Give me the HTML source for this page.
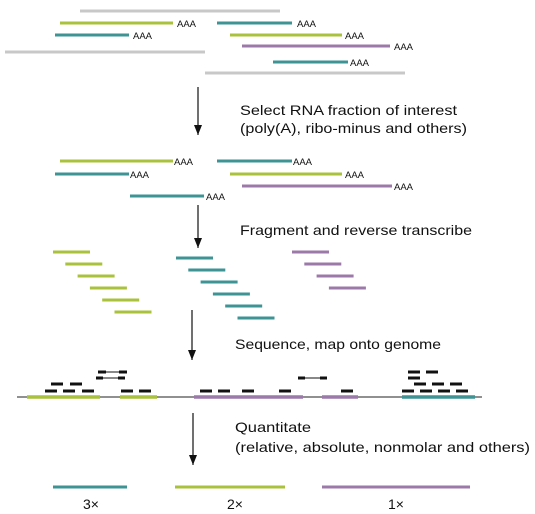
<!DOCTYPE html>
<html><head><meta charset="utf-8"><style>
html,body{margin:0;padding:0;background:#fff;}
svg{display:block;font-family:"Liberation Sans",Arial,sans-serif;}
.t{font-size:14px;fill:#111;}
.a{font-size:9.5px;fill:#111;}
</style></head><body>
<svg width="535" height="514" viewBox="0 0 535 514">
<defs><marker id="ah" markerWidth="12" markerHeight="10" refX="10" refY="5" orient="auto" markerUnits="userSpaceOnUse" viewBox="0 0 12 10"><path d="M0,1 L10,5 L0,9 Z" fill="#111"/></marker></defs>
<g id="top" stroke-width="3" stroke-linecap="butt">
<line x1="80" y1="11" x2="280" y2="11" stroke="#c8c8c8"/>
<line x1="60" y1="23" x2="173" y2="23" stroke="#a9c13b"/><text class="a" x="177" y="27" stroke="none">AAA</text>
<line x1="217" y1="23" x2="292" y2="23" stroke="#3e9395"/><text class="a" x="297" y="27" stroke="none">AAA</text>
<line x1="55" y1="35" x2="129" y2="35" stroke="#3e9395"/><text class="a" x="133" y="39" stroke="none">AAA</text>
<line x1="230" y1="35" x2="342" y2="35" stroke="#a9c13b"/><text class="a" x="345" y="39" stroke="none">AAA</text>
<line x1="242" y1="46" x2="390" y2="46" stroke="#9b79a8"/><text class="a" x="394" y="50" stroke="none">AAA</text>
<line x1="5" y1="52" x2="205" y2="52" stroke="#c8c8c8"/>
<line x1="273" y1="62" x2="348" y2="62" stroke="#3e9395"/><text class="a" x="350" y="66" stroke="none">AAA</text>
<line x1="205" y1="73" x2="405" y2="73" stroke="#c8c8c8"/>
</g>
<line x1="198" y1="87" x2="198" y2="135" stroke="#111" stroke-width="1.2" marker-end="url(#ah)"/>
<text class="t" x="240" y="115" textLength="217" lengthAdjust="spacingAndGlyphs">Select RNA fraction of interest</text>
<text class="t" x="240" y="133" textLength="227" lengthAdjust="spacingAndGlyphs">(poly(A), ribo-minus and others)</text>
<g stroke-width="3">
<line x1="60" y1="161" x2="173" y2="161" stroke="#a9c13b"/><text class="a" x="174" y="165" stroke="none">AAA</text>
<line x1="217" y1="161" x2="292" y2="161" stroke="#3e9395"/><text class="a" x="293" y="165" stroke="none">AAA</text>
<line x1="55" y1="174" x2="129" y2="174" stroke="#3e9395"/><text class="a" x="130" y="178" stroke="none">AAA</text>
<line x1="230" y1="174" x2="342" y2="174" stroke="#a9c13b"/><text class="a" x="345" y="178" stroke="none">AAA</text>
<line x1="242" y1="186" x2="392" y2="186" stroke="#9b79a8"/><text class="a" x="394" y="190" stroke="none">AAA</text>
<line x1="130" y1="196" x2="204" y2="196" stroke="#3e9395"/><text class="a" x="206" y="200" stroke="none">AAA</text>
</g>
<line x1="198" y1="205" x2="198" y2="248" stroke="#111" stroke-width="1.2" marker-end="url(#ah)"/>
<text class="t" x="240" y="235" textLength="232" lengthAdjust="spacingAndGlyphs">Fragment and reverse transcribe</text>
<g id="frags" stroke-width="3"></g>
<line x1="192" y1="310" x2="192" y2="360" stroke="#111" stroke-width="1.2" marker-end="url(#ah)"/>
<text class="t" x="235" y="349" textLength="206" lengthAdjust="spacingAndGlyphs">Sequence, map onto genome</text>
<g>
<line x1="17" y1="397" x2="482" y2="397" stroke="#222" stroke-width="1"/>
<g stroke-width="3.5">
<line x1="27" y1="397" x2="100" y2="397" stroke="#a9c13b"/>
<line x1="120" y1="397" x2="157" y2="397" stroke="#a9c13b"/>
<line x1="194" y1="397" x2="303" y2="397" stroke="#9b79a8"/>
<line x1="322" y1="397" x2="358" y2="397" stroke="#9b79a8"/>
<line x1="402" y1="397" x2="475" y2="397" stroke="#3e9395"/>
</g>
<g id="reads" stroke="#111" stroke-width="3"></g>
<g stroke="#111" stroke-width="1">
<line x1="98" y1="372" x2="127" y2="372"/><line x1="96" y1="378" x2="125" y2="378"/><line x1="298" y1="378" x2="327" y2="378"/>
</g>
<g stroke="#111" stroke-width="3">
<line x1="98" y1="372" x2="106" y2="372"/><line x1="119" y1="372" x2="127" y2="372"/>
<line x1="96" y1="378" x2="103" y2="378"/><line x1="118" y1="378" x2="125" y2="378"/>
<line x1="298" y1="378" x2="305" y2="378"/><line x1="320" y1="378" x2="327" y2="378"/>
</g>
</g>
<line x1="193" y1="413" x2="193" y2="465" stroke="#111" stroke-width="1.2" marker-end="url(#ah)"/>
<text class="t" x="235" y="432" textLength="76" lengthAdjust="spacingAndGlyphs">Quantitate</text>
<text class="t" x="235" y="452" textLength="295" lengthAdjust="spacingAndGlyphs">(relative, absolute, nonmolar and others)</text>
<g stroke-width="3">
<line x1="53" y1="487" x2="127" y2="487" stroke="#3e9395"/>
<line x1="175" y1="487" x2="285" y2="487" stroke="#a9c13b"/>
<line x1="322" y1="487" x2="470" y2="487" stroke="#9b79a8"/>
</g>
<text class="t" x="91" y="509" text-anchor="middle">3×</text>
<text class="t" x="235" y="509" text-anchor="middle">2×</text>
<text class="t" x="396" y="509" text-anchor="middle">1×</text>
</svg>
<script>
const NS="http://www.w3.org/2000/svg";
const fragGroups=[["#a9c13b",53,252,6],["#3e9395",176,258,6],["#9b79a8",292,252,4]];
const fg=document.getElementById('frags');
fragGroups.forEach(([c,x,y,n])=>{for(let i=0;i<n;i++){const l=document.createElementNS(NS,'line');
l.setAttribute('x1',x+i*12.3);l.setAttribute('x2',x+i*12.3+37);l.setAttribute('y1',y+i*12);l.setAttribute('y2',y+i*12);l.setAttribute('stroke',c);


fg.appendChild(l);}});
const readRows=[[391,[45,63,82,121,139,200,218,242,279,341,402,420,438,456]],[384,[51,70,414,432,450]],[378,[408]],[372,[408,426]]];
const rg=document.getElementById('reads');
readRows.forEach(([y,xs])=>xs.forEach(x=>{const l=document.createElementNS(NS,'line');
l.setAttribute('x1',x);l.setAttribute('x2',x+12);l.setAttribute('y1',y);l.setAttribute('y2',y);


rg.appendChild(l);}));
</script>
</body></html>
